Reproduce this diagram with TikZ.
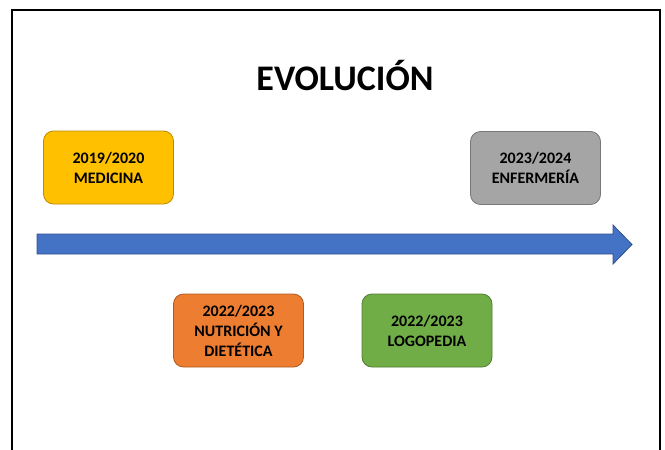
\documentclass[tikz,border=0pt]{standalone}
\usepackage{fontspec}
\setmainfont{Carlito}
\usepackage{tikz}
\usetikzlibrary{positioning}
\definecolor{oroA}{HTML}{FFC000}
\definecolor{oroB}{HTML}{BC8C00}
\definecolor{grisA}{HTML}{A5A5A5}
\definecolor{grisB}{HTML}{787878}
\definecolor{naranjaA}{HTML}{ED7D31}
\definecolor{naranjaB}{HTML}{AE5A21}
\definecolor{verdeA}{HTML}{70AD47}
\definecolor{verdeB}{HTML}{507E32}
\definecolor{azulA}{HTML}{4472C4}
\definecolor{azulB}{HTML}{2F528F}

\begin{document}
\begin{tikzpicture}[x=1pt,y=-1pt,
  every node/.style = {shape=rectangle, rounded corners=10pt,
    align=center, line width=0.8pt,
    minimum width=130pt, minimum height=73pt,
    font=\bfseries\fontsize{16}{20}\selectfont},
  curso/.style = {draw=#1B, fill=#1A}
  ]
  \useasboundingbox (0,0) rectangle (665,450);
  \draw[line width=2.5pt] (12,452) -- (12,10) -- (660,10) -- (660,452);
  \node[draw=none, minimum width=0pt, minimum height=0pt,
    font=\bfseries\fontsize{36}{40}\selectfont] (titulo) at (345,76) {EVOLUCIÓN};
  % flecha del tiempo
  \draw[azulB, fill=azulA, line width=0.8pt] (37,234) -- (613,234) -- (613,225)
    -- (632,244.5) -- (613,264) -- (613,254) -- (37,254) -- cycle;
  \node[curso=oro] (medicina) at (108.5,167.5) {2019/2020\\MEDICINA};
  \node[curso=gris] (enfermeria) at (535.5,168) {2023/2024\\ENFERMERÍA};
  \node[curso=naranja] (nutricion) at (238.5,330.5) {2022/2023\\NUTRICIÓN Y\\DIETÉTICA};
  \node[curso=verde] (logopedia) at (427,330.5) {2022/2023\\LOGOPEDIA};
\end{tikzpicture}
\end{document}
